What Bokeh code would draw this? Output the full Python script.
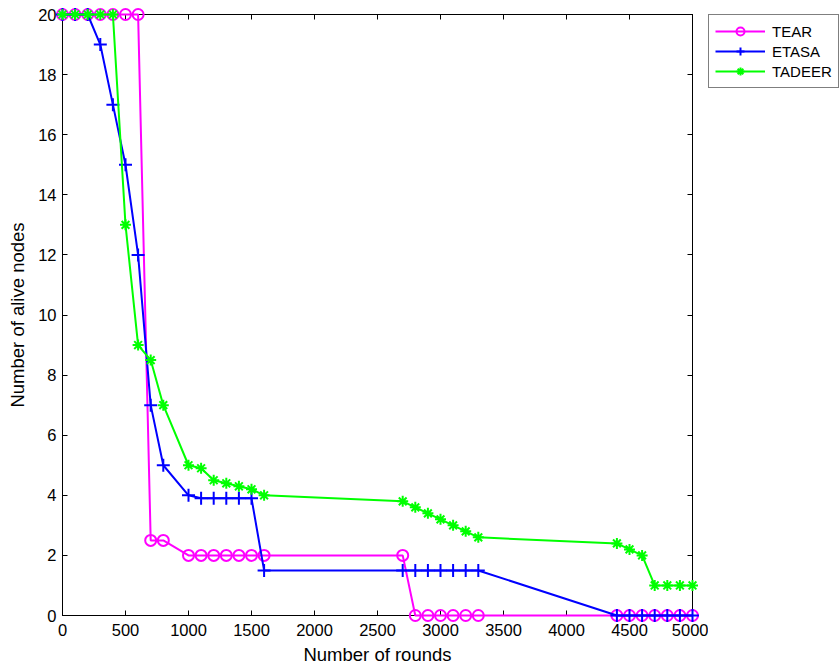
from bokeh.plotting import figure
from bokeh.layouts import row
from bokeh.models import (Range1d, LinearAxis, Legend, LegendItem, FixedTicker,
                          CustomJSTickFormatter)
from bokeh.embed import file_html
from bokeh.resources import INLINE

# ---- data ----
rounds = [0, 100, 200, 300, 400, 500, 600, 700, 800, 1000, 1100, 1200, 1300, 1400,
          1500, 1600, 2700, 2800, 2900, 3000, 3100, 3200, 3300, 4400, 4500, 4600,
          4700, 4800, 4900, 5000]
tear = [20, 20, 20, 20, 20, 20, 20, 2.5, 2.5, 2, 2, 2, 2, 2,
        2, 2, 2, 0, 0, 0, 0, 0, 0, 0, 0, 0,
        0, 0, 0, 0]
etasa = [20, 20, 20, 19, 17, 15, 12, 7, 5, 4, 3.9, 3.9, 3.9, 3.9,
         3.9, 1.5, 1.5, 1.5, 1.5, 1.5, 1.5, 1.5, 1.5, 0, 0, 0,
         0, 0, 0, 0]
tadeer = [20, 20, 20, 20, 20, 13, 9, 8.5, 7, 5, 4.9, 4.5, 4.4, 4.3,
          4.2, 4.0, 3.8, 3.6, 3.4, 3.2, 3.0, 2.8, 2.6, 2.4, 2.2, 2.0,
          1, 1, 1, 1]
series_names = ["TEAR", "ETASA", "TADEER"]
x_ticks = [0, 500, 1000, 1500, 2000, 2500, 3000, 3500, 4000, 4500, 5000]
y_ticks = [0, 2, 4, 6, 8, 10, 12, 14, 16, 18, 20]

FONT = "Liberation Sans"

p = figure(width=708, height=670, output_backend="svg", toolbar_location=None,
           x_range=Range1d(0, 5000), y_range=Range1d(0, 20),
           min_border_left=62, min_border_right=16, min_border_top=14,
           min_border_bottom=55)
p.xgrid.visible = False
p.ygrid.visible = False
p.outline_line_color = "black"
p.outline_line_width = 1
p.background_fill_color = "white"
p.border_fill_color = "white"

p.xaxis.ticker = FixedTicker(ticks=x_ticks)
p.yaxis.ticker = FixedTicker(ticks=y_ticks)
for ax in [p.xaxis[0], p.yaxis[0]]:
    ax.major_tick_in = 5
    ax.major_tick_out = 0
    ax.minor_tick_line_color = None
    ax.axis_line_color = "black"
    ax.major_tick_line_color = "black"
    ax.major_label_text_font = FONT
    ax.major_label_text_font_size = "16.5px"
    ax.major_label_text_color = "black"
    ax.axis_label_text_font = FONT
    ax.axis_label_text_font_size = "18.5px"
    ax.axis_label_text_font_style = "normal"
    ax.axis_label_text_color = "black"
p.xaxis.axis_label = "Number of rounds"
p.yaxis.axis_label = "Number of alive nodes"
p.xaxis.major_label_standoff = 8
p.yaxis.major_label_standoff = 6
p.xaxis.axis_label_standoff = 5
p.yaxis.axis_label_standoff = 7

# mirrored axes (ticks only)
top = LinearAxis(ticker=FixedTicker(ticks=x_ticks),
                 formatter=CustomJSTickFormatter(code="return ''"),
                 major_tick_in=5, major_tick_out=0, minor_tick_line_color=None,
                 major_label_standoff=0, major_label_text_font_size="1px")
right = LinearAxis(ticker=FixedTicker(ticks=y_ticks),
                   formatter=CustomJSTickFormatter(code="return ''"),
                   major_tick_in=5, major_tick_out=0, minor_tick_line_color=None,
                   major_label_standoff=0, major_label_text_font_size="1px")
p.add_layout(top, "above")
p.add_layout(right, "right")

colors = ["#ff00ff", "#0000ff", "#00ff00"]
markers = ["circle", "cross", "asterisk"]
sizes = [11, 13, 11]
ys = [tear, etasa, tadeer]

# legend panel (separate figure to the right of the axes box); its ranges
# exclude all data so only the legend shows
pl = figure(width=131, height=670, output_backend="svg", toolbar_location=None,
            x_range=Range1d(-2, -1), y_range=Range1d(-2, -1),
            x_axis_location=None, y_axis_location=None,
            min_border_left=0, min_border_right=0, min_border_top=14,
            min_border_bottom=0)
pl.grid.visible = False
pl.outline_line_color = None
pl.background_fill_color = "white"
pl.border_fill_color = "white"

items = []
for name, y, c, m, s in zip(series_names, ys, colors, markers, sizes):
    p.line(rounds, y, line_color=c, line_width=2, level="overlay")
    fill = None if m == "circle" else c
    p.scatter(rounds, y, marker=m, size=s, line_color=c, line_width=2,
              fill_color=fill, level="overlay")
    ln = pl.line(rounds, y, line_color=c, line_width=2)
    sc = pl.scatter(rounds, y, marker=m, size=s, line_color=c, line_width=2,
                    fill_color=fill)
    items.append(LegendItem(label=name, renderers=[ln, sc]))

legend = Legend(items=items, location="top_left")
legend.border_line_color = "black"
legend.border_line_width = 1
legend.background_fill_color = "white"
legend.background_fill_alpha = 1
legend.label_text_font = FONT
legend.label_text_font_size = "15px"
legend.label_text_color = "black"
legend.glyph_width = 50
legend.glyph_height = 20
legend.label_height = 20
legend.padding = 6
legend.spacing = 0
legend.label_standoff = 7
legend.margin = 0
pl.add_layout(legend, "center")

layout = row(p, pl, spacing=0)
open("out.html", "w").write(file_html(layout, INLINE))
